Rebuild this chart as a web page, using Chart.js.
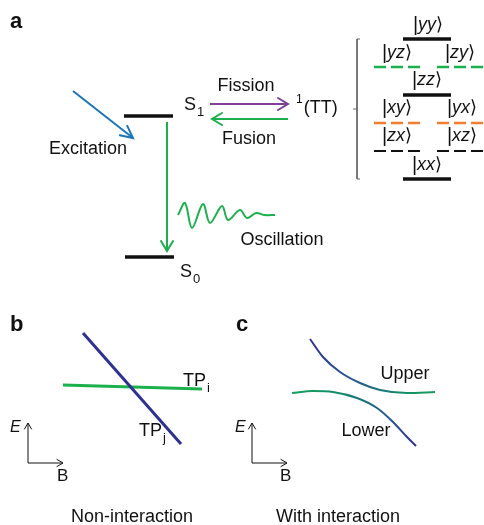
<!DOCTYPE html>
<html>
<head>
<meta charset="utf-8">
<script src="https://cdn.jsdelivr.net/npm/chart.js@4"></script>
<style>
  html, body { margin: 0; padding: 0; background: #fff; }
  canvas { display: block; }
</style>
</head>
<body>
<canvas id="diagram" width="484" height="525"></canvas>
<script>
// ---- 数据 (diagram units, y grows downwards) ----
// panel a: energy levels and transitions
const levelS1 = [[124, 116], [173, 116]];
const levelS0 = [[125, 257], [174, 257]];
const excitation = [[73, 91], [133, 138]];
const decay = [[167, 122], [167, 251]];
const fission = [[210, 104], [288, 104]];
const fusion = [[288, 119], [212, 119]];
const oscillation = [[178, 215], [185, 203], [192, 228], [203, 204], [210, 223], [222, 206],
                     [228, 220], [240, 210], [247, 218], [256, 213], [264, 215], [275, 215]];
// triplet-pair sublevels
const bracket = [[360, 39], [357, 39], [357, 179], [360, 179]];
const bracketTick = [[353, 109], [357, 109]];
const levelYY = [[403, 39], [451, 39]];
const levelZZ = [[403, 95], [451, 95]];
const levelXX = [[403, 179], [451, 179]];
const dashYZLeft = [[374, 67], [422, 67]];
const dashYZRight = [[437, 67], [484, 67]];
const dashXYLeft = [[374, 123], [422, 123]];
const dashXYRight = [[437, 123], [484, 123]];
const dashZXLeft = [[374, 151], [422, 151]];
const dashZXRight = [[437, 151], [484, 151]];
// panel b: crossing levels
const lineTPj = [[83, 333], [181, 444]];
const lineTPi = [[63, 385], [202, 389]];
const axisEb = [[28, 463], [28, 423]];
const axisBb = [[28, 463], [63, 463]];
// panel c: anticrossing
const upperBranch = [[310, 339], [323, 357], [340, 372], [360, 383], [380, 390], [407, 393], [435, 392]];
const lowerBranch = [[292, 393], [313, 391], [333, 392], [357, 398], [377, 408], [393, 422], [407, 437], [416, 446]];
const axisEc = [[252, 463], [252, 423]];
const axisBc = [[252, 463], [287, 463]];

const pts = arr => arr.map(([x, y]) => ({ x, y }));

const FONT = '"Liberation Sans", Arial, Helvetica, sans-serif';
const GREEN = '#1bb04b';
const NAVY = '#2e3192';

// 渐变色 (用于 c 图)
function gradientLine(stops) {
    return function(ctx) {
        const chart = ctx.chart;
        if (!chart.chartArea) return NAVY;
        const d = ctx.dataset.data;
        const xs = chart.scales.x;
        const g = chart.ctx.createLinearGradient(
            xs.getPixelForValue(d[0].x), 0, xs.getPixelForValue(d[d.length - 1].x), 0);
        stops.forEach(([p, c]) => g.addColorStop(p, c));
        return g;
    };
}

function seg(data, color, width, extra) {
    return Object.assign({
        data: pts(data),
        showLine: true,
        borderColor: color,
        borderWidth: width,
        pointRadius: 0,
        pointHoverRadius: 0,
        fill: false,
        borderCapStyle: 'butt'
    }, extra || {});
}

const dash = [12, 5];

const datasets = [
    seg(levelS1, '#111', 3.5),
    seg(levelS0, '#111', 3.5),
    seg(excitation, '#1b75bc', 2, { arrow: { len: 12, half: 6 } }),
    seg(decay, GREEN, 2, { arrow: { len: 10, half: 6 } }),
    seg(fission, '#7f3f98', 2, { arrow: { len: 10, half: 6 } }),
    seg(fusion, GREEN, 2, { arrow: { len: 10, half: 6 } }),
    seg(oscillation, GREEN, 2, { tension: 0.35 }),
    seg(bracket, '#666', 1),
    seg(bracketTick, '#666', 1),
    seg(levelYY, '#111', 3.5),
    seg(levelZZ, '#111', 3.5),
    seg(levelXX, '#111', 3.5),
    seg(dashYZLeft, GREEN, 2.5, { borderDash: dash }),
    seg(dashYZRight, GREEN, 2.5, { borderDash: dash }),
    seg(dashXYLeft, '#f47d30', 2.5, { borderDash: dash }),
    seg(dashXYRight, '#f47d30', 2.5, { borderDash: dash }),
    seg(dashZXLeft, '#111', 2, { borderDash: dash }),
    seg(dashZXRight, '#111', 2, { borderDash: dash }),
    seg(lineTPj, NAVY, 3),
    seg(lineTPi, GREEN, 3),
    seg(axisEb, '#111', 1, { arrow: { len: 6, half: 3.5 } }),
    seg(axisBb, '#111', 1, { arrow: { len: 6, half: 3.5 } }),
    seg(upperBranch, gradientLine([[0, NAVY], [0.35, '#26578f'], [0.7, '#138a6e'], [1, '#14a05a']]), 2,
        { cubicInterpolationMode: 'monotone' }),
    seg(lowerBranch, gradientLine([[0, '#14a05a'], [0.4, '#138a6e'], [0.75, '#245a8f'], [1, NAVY]]), 2,
        { cubicInterpolationMode: 'monotone' }),
    seg(axisEc, '#111', 1, { arrow: { len: 6, half: 3.5 } }),
    seg(axisBc, '#111', 1, { arrow: { len: 6, half: 3.5 } })
];

// 文字标签
const labels = [
    { t: 'a', x: 10, y: 22, size: 22, bold: true, align: 'left' },
    { t: 'Excitation', x: 88, y: 149, size: 18 },
    { t: 'S', sub: '1', x: 184, y: 105, size: 18, align: 'left' },
    { t: 'Fission', x: 246, y: 86, size: 18 },
    { t: 'Fusion', x: 249, y: 139, size: 18 },
    { t: '(TT)', sup: '1', x: 296, y: 108, size: 18, align: 'left' },
    { t: 'Oscillation', x: 282, y: 240, size: 18 },
    { t: 'S', sub: '0', x: 180, y: 272, size: 18, align: 'left' },
    { ket: 'yy', x: 428, y: 25 },
    { ket: 'yz', x: 397, y: 53 },
    { ket: 'zy', x: 460, y: 53 },
    { ket: 'zz', x: 427, y: 80 },
    { ket: 'xy', x: 397, y: 108 },
    { ket: 'yx', x: 462, y: 108 },
    { ket: 'zx', x: 397, y: 136 },
    { ket: 'xz', x: 462, y: 136 },
    { ket: 'xx', x: 427, y: 165 },
    { t: 'b', x: 10, y: 325, size: 22, bold: true, align: 'left' },
    { t: 'c', x: 236, y: 325, size: 22, bold: true, align: 'left' },
    { t: 'TP', sub: 'i', x: 183, y: 381, size: 18, align: 'left' },
    { t: 'TP', sub: 'j', x: 139, y: 431, size: 18, align: 'left' },
    { t: 'E', x: 10, y: 428, size: 16, italic: true, align: 'left' },
    { t: 'B', x: 57, y: 476, size: 17, align: 'left' },
    { t: 'E', x: 235, y: 428, size: 16, italic: true, align: 'left' },
    { t: 'B', x: 280, y: 476, size: 17, align: 'left' },
    { t: 'Upper', x: 405, y: 374, size: 18 },
    { t: 'Lower', x: 366, y: 431, size: 18 },
    { t: 'Non-interaction', x: 132, y: 517, size: 18 },
    { t: 'With interaction', x: 338, y: 517, size: 18 }
];

function fontStr(size, bold, italic) {
    return (italic ? 'italic ' : '') + (bold ? 'bold ' : '') + size + 'px ' + FONT;
}

// 箭头插件
const arrowPlugin = {
    id: 'arrows',
    afterDatasetsDraw(chart) {
        const ctx = chart.ctx;
        chart.data.datasets.forEach((ds, i) => {
            if (!ds.arrow) return;
            const pts = chart.getDatasetMeta(i).data;
            const a = pts[pts.length - 2], b = pts[pts.length - 1];
            const ang = Math.atan2(b.y - a.y, b.x - a.x);
            const { len, half } = ds.arrow;
            ctx.save();
            ctx.strokeStyle = ds.borderColor;
            ctx.lineWidth = ds.borderWidth;
            ctx.lineCap = 'round';
            ctx.lineJoin = 'miter';
            ctx.beginPath();
            for (const s of [1, -1]) {
                const bx = b.x - len * Math.cos(ang) - s * half * Math.sin(ang);
                const by = b.y - len * Math.sin(ang) + s * half * Math.cos(ang);
                if (s === 1) ctx.moveTo(bx, by); else { ctx.lineTo(b.x, b.y); ctx.lineTo(bx, by); }
            }
            ctx.stroke();
            ctx.restore();
        });
    }
};

// 文字插件
const textPlugin = {
    id: 'texts',
    afterDraw(chart) {
        const ctx = chart.ctx;
        const xs = chart.scales.x, ys = chart.scales.y;
        ctx.save();
        ctx.fillStyle = '#111';
        ctx.textBaseline = 'middle';
        labels.forEach(l => {
            const px = xs.getPixelForValue(l.x), py = ys.getPixelForValue(l.y);
            if (l.ket) {
                // 竖线和尖括号直立，字母斜体
                const parts = [['|', false, 20], [l.ket, true, 18], ['\u27E9', false, 18]];
                const widths = parts.map(([s, it, sz]) => { ctx.font = fontStr(sz, false, it); return ctx.measureText(s).width; });
                let x = px - widths.reduce((p, c) => p + c, 0) / 2;
                ctx.textAlign = 'left';
                parts.forEach(([s, it, sz], k) => {
                    ctx.font = fontStr(sz, false, it);
                    ctx.fillText(s, x, py);
                    x += widths[k];
                });
                return;
            }
            ctx.font = fontStr(l.size, l.bold, l.italic);
            ctx.textAlign = l.align || 'center';
            let x = px;
            if (l.sup) {
                ctx.font = fontStr(12, false, false);
                ctx.textAlign = 'left';
                ctx.fillText(l.sup, x, py - 8);
                x += ctx.measureText(l.sup).width + 1;
                ctx.font = fontStr(l.size, l.bold, l.italic);
            }
            ctx.fillText(l.t, x, py);
            if (l.sub) {
                const w = ctx.measureText(l.t).width;
                ctx.font = fontStr(13, false, false);
                ctx.textAlign = 'left';
                ctx.fillText(l.sub, x + w + 1, py + 7);
            }
        });
        ctx.restore();
    }
};

new Chart(document.getElementById('diagram').getContext('2d'), {
    type: 'scatter',
    data: { datasets: datasets },
    options: {
        responsive: false,
        animation: false,
        devicePixelRatio: 1,
        layout: { padding: 0 },
        events: [],
        scales: {
            x: { type: 'linear', min: 0, max: 484, display: false },
            y: { type: 'linear', min: 0, max: 525, reverse: true, display: false }
        },
        plugins: {
            legend: { display: false },
            tooltip: { enabled: false }
        }
    },
    plugins: [arrowPlugin, textPlugin]
});
</script>
</body>
</html>
